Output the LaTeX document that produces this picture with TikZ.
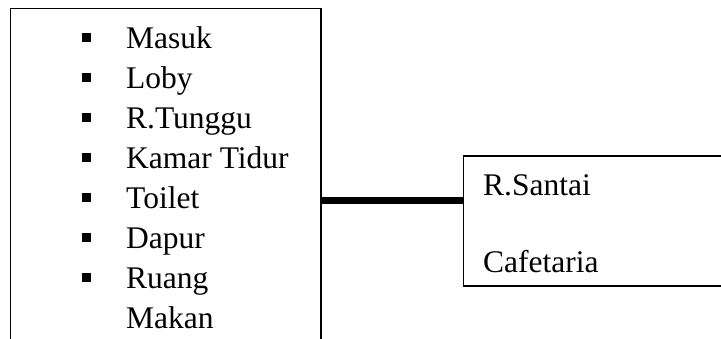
\documentclass[tikz,border=0pt]{standalone}
\usepackage{fontspec}
\setmainfont{Liberation Serif}
\begin{document}
\begin{tikzpicture}[x=1pt,y=-1pt,
  frame/.style={draw=black, line width=1.5pt, rectangle, inner sep=0pt, anchor=north west},
  item/.style={anchor=base west, inner sep=0pt, font=\fontsize{31.5}{40}\selectfont},
  bullet/.style={fill=black, rectangle, inner sep=0pt, minimum size=9pt},
  link/.style={line width=7pt}]
  \useasboundingbox (0,0) rectangle (721,338);
  \clip (0,0) rectangle (721,338);

  % left block: list of rooms (runs past the bottom edge)
  \node[frame, minimum width=310.5pt, minimum height=360pt] (leftbox) at (9.5,7.5) {};
  \foreach \name/\txt [count=\i from 0] in
      {masuk/Masuk, loby/Loby, tunggu/R.Tunggu, kamar/Kamar Tidur,
       toilet/Toilet, dapur/Dapur, ruang/Ruang} {
    \node[bullet] (b-\name) at (86, 48+40*\i-10.5) {};
    \node[item] (t-\name) at (126, 48+40*\i) {\txt};
  }
  \node[item] (t-makan) at (126, 328) {Makan};

  % right block: shared rooms (runs past the right edge)
  \node[frame, minimum width=300pt, minimum height=130pt] (rightbox) at (462.5,155) {};
  \node[item] (t-santai) at (483, 195) {R.Santai};
  \node[item] (t-cafe) at (483, 272) {Cafetaria};

  % thick connector between the two blocks
  \path (rightbox.north west) ++(0,45) coordinate (joint);
  \draw[link] (joint -| leftbox.east) -- (joint);
\end{tikzpicture}
\end{document}
